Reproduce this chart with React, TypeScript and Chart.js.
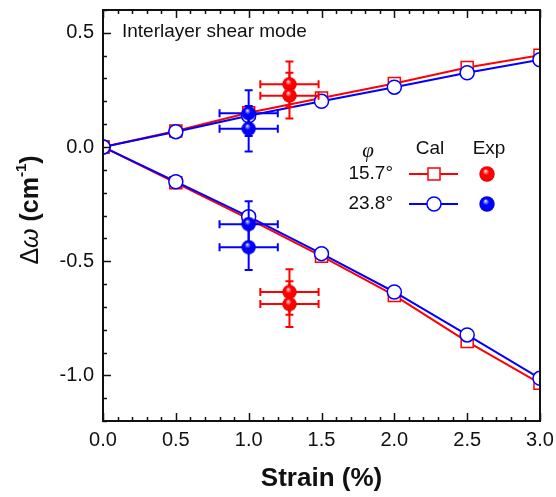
import React, { useEffect, useRef } from 'react';
import { Chart, registerables } from 'chart.js';

Chart.register(...registerables);

// ---------- data ----------
const strain = [0, 0.5, 1, 1.5, 2, 2.5, 3];
const cal157Up = [0, 0.07, 0.15, 0.215, 0.278, 0.348, 0.402];
const cal157Down = [0, -0.157, -0.315, -0.478, -0.65, -0.852, -1.035];
const cal238Up = [0, 0.067, 0.137, 0.2, 0.262, 0.325, 0.382];
const cal238Down = [0, -0.152, -0.305, -0.467, -0.635, -0.823, -1.013];

const exp157X = [1.28, 1.28, 1.28, 1.28];
const exp157Y = [0.275, 0.225, -0.635, -0.688];
const exp157XErr = [0.2, 0.2, 0.2, 0.2];
const exp157YErr = [0.1, 0.1, 0.1, 0.1];

const exp238X = [1.0, 1.0, 1.0, 1.0];
const exp238Y = [0.148, 0.08, -0.338, -0.439];
const exp238XErr = [0.2, 0.2, 0.2, 0.2];
const exp238YErr = [0.1, 0.1, 0.1, 0.1];

const xTickValues = [0, 0.5, 1, 1.5, 2, 2.5, 3];
const yTickValues = [-1.0, -0.5, 0, 0.5];
const legendAngles = ['15.7°', '23.8°'];
const panelTitle = 'Interlayer shear mode';
const xTitle = 'Strain (%)';

const RED = '#ff0000';
const BLUE = '#0000ff';
const SANS = '"Liberation Sans", Arial, Helvetica, sans-serif';
const SERIF = '"Liberation Serif", "Times New Roman", serif';
const TEXT = '#111111';

function makeSphere(base: string, dark: string, size: number): HTMLCanvasElement {
  const c = document.createElement('canvas');
  c.width = size;
  c.height = size;
  const g = c.getContext('2d')!;
  const r = size / 2;
  const grad = g.createRadialGradient(r * 0.8, r * 0.6, 0, r, r, r);
  grad.addColorStop(0, '#ffffff');
  grad.addColorStop(0.18, base === RED ? '#ff8080' : '#8080ff');
  grad.addColorStop(0.4, base);
  grad.addColorStop(0.85, base);
  grad.addColorStop(1, dark);
  g.fillStyle = grad;
  g.beginPath();
  g.arc(r, r, r - 0.3, 0, Math.PI * 2);
  g.fill();
  return c;
}

const pts = (xs: number[], ys: number[]) => xs.map((x, i) => ({ x, y: ys[i] }));

export default function App() {
  const ref = useRef<HTMLCanvasElement>(null);

  useEffect(() => {
    const redSphere = makeSphere(RED, '#b00000', 15);
    const blueSphere = makeSphere(BLUE, '#0000a8', 15);
    const redSphereL = makeSphere(RED, '#b00000', 16);
    const blueSphereL = makeSphere(BLUE, '#0000a8', 16);

    const decor = {
      id: 'decor',
      beforeDatasetDraw(chart: any, args: any) {
        const ds = chart.data.datasets[args.index] as any;
        if (!ds.errX) return;
        const ctx = chart.ctx as CanvasRenderingContext2D;
        const xs = chart.scales.x;
        const ys = chart.scales.y;
        ctx.save();
        ctx.strokeStyle = ds.errColor;
        ctx.lineWidth = 2;
        ds.data.forEach((p: any, i: number) => {
          const px = xs.getPixelForValue(p.x);
          const py = ys.getPixelForValue(p.y);
          const x0 = xs.getPixelForValue(p.x - ds.errX[i]);
          const x1 = xs.getPixelForValue(p.x + ds.errX[i]);
          const y0 = ys.getPixelForValue(p.y - ds.errY[i]);
          const y1 = ys.getPixelForValue(p.y + ds.errY[i]);
          ctx.beginPath();
          ctx.moveTo(x0, py); ctx.lineTo(x1, py);
          ctx.moveTo(px, y0); ctx.lineTo(px, y1);
          ctx.moveTo(x0, py - 4); ctx.lineTo(x0, py + 4);
          ctx.moveTo(x1, py - 4); ctx.lineTo(x1, py + 4);
          ctx.moveTo(px - 4, y0); ctx.lineTo(px + 4, y0);
          ctx.moveTo(px - 4, y1); ctx.lineTo(px + 4, y1);
          ctx.stroke();
        });
        ctx.restore();
      },
      afterDraw(chart: any) {
        const ctx = chart.ctx as CanvasRenderingContext2D;
        const a = chart.chartArea;
        const xs = chart.scales.x;
        const ys = chart.scales.y;
        ctx.save();
        // frame
        ctx.strokeStyle = '#111';
        ctx.lineWidth = 2;
        ctx.strokeRect(a.left, a.top, a.right - a.left, a.bottom - a.top);
        // ticks
        ctx.lineWidth = 1.5;
        ctx.beginPath();
        for (let k = 0; k <= 30; k++) {
          const v = k / 10;
          const px = Math.round(xs.getPixelForValue(v)) + 0.5;
          const len = k % 5 === 0 ? 8 : 4;
          ctx.moveTo(px, a.bottom); ctx.lineTo(px, a.bottom - len);
          ctx.moveTo(px, a.top); ctx.lineTo(px, a.top + len);
        }
        for (let k = -12; k <= 6; k++) {
          const v = k / 10;
          const py = Math.round(ys.getPixelForValue(v)) + 0.5;
          const len = k % 5 === 0 ? 8 : 4;
          ctx.moveTo(a.left, py); ctx.lineTo(a.left + len, py);
        }
        ctx.stroke();

        // panel title
        ctx.fillStyle = TEXT;
        ctx.font = `19px ${SANS}`;
        ctx.textAlign = 'left';
        ctx.textBaseline = 'alphabetic';
        ctx.fillText(panelTitle, a.left + 19, 37);

        // x title
        ctx.font = `bold 26px ${SANS}`;
        ctx.textAlign = 'center';
        ctx.fillText(xTitle, (a.left + a.right) / 2, 486);

        // y title
        ctx.save();
        ctx.translate(31, 210);
        ctx.rotate(-Math.PI / 2);
        const parts = [
          { t: 'Δ', f: `25px ${SANS}`, dy: 0 },
          { t: 'ω', f: `italic 25px ${SANS}`, dy: 0 },
          { t: ' (cm', f: `bold 25px ${SANS}`, dy: 0 },
          { t: '-1', f: `bold 15px ${SANS}`, dy: -9 },
          { t: ')', f: `bold 25px ${SANS}`, dy: 0 },
        ];
        let total = 0;
        parts.forEach((p) => { ctx.font = p.f; total += ctx.measureText(p.t).width; });
        let cx = -total / 2;
        ctx.textAlign = 'left';
        ctx.textBaseline = 'middle';
        parts.forEach((p) => {
          ctx.font = p.f;
          ctx.fillText(p.t, cx, p.dy);
          cx += ctx.measureText(p.t).width;
        });
        ctx.restore();

        // legend
        const lx = a.right; // anchor
        ctx.fillStyle = TEXT;
        ctx.textBaseline = 'middle';
        ctx.textAlign = 'center';
        ctx.font = `italic 21px ${SERIF}`;
        ctx.fillText('φ', lx - 172, 151);
        ctx.font = `19px ${SANS}`;
        ctx.fillText('Cal', lx - 110, 149);
        ctx.fillText('Exp', lx - 51, 149);
        ctx.textAlign = 'right';
        const rows = [
          { label: legendAngles[0], color: RED, y: 174, marker: 'sq', sphere: redSphereL },
          { label: legendAngles[1], color: BLUE, y: 204, marker: 'ci', sphere: blueSphereL },
        ];
        rows.forEach((r) => {
          ctx.fillStyle = TEXT;
          ctx.font = `19px ${SANS}`;
          ctx.fillText(r.label, lx - 147, r.y);
          ctx.strokeStyle = r.color;
          ctx.lineWidth = 2;
          ctx.beginPath();
          ctx.moveTo(lx - 131, r.y);
          ctx.lineTo(lx - 82, r.y);
          ctx.stroke();
          ctx.fillStyle = '#fff';
          ctx.lineWidth = 1.5;
          ctx.beginPath();
          if (r.marker === 'sq') ctx.rect(lx - 106 - 6, r.y - 6, 12, 12);
          else ctx.arc(lx - 106, r.y, 7, 0, Math.PI * 2);
          ctx.fill();
          ctx.stroke();
          ctx.drawImage(r.sphere, lx - 53 - 8, r.y - 8);
        });
        ctx.restore();
      },
    };

    const calStyle = (color: string, style: string, radius: number, order: number) => ({
      showLine: true,
      borderColor: color,
      borderWidth: 2,
      pointStyle: style,
      pointRadius: radius,
      pointBackgroundColor: '#ffffff',
      pointBorderColor: color,
      pointBorderWidth: 1.5,
      order,
    });

    const zeroPad = (s: any) => {
      s.paddingTop = 0;
      s.paddingBottom = 0;
      s.paddingLeft = 0;
      s.paddingRight = 0;
    };

    const chart = new Chart(ref.current!, {
      type: 'scatter',
      data: {
        datasets: [
          { data: pts(strain, cal157Up), ...calStyle(RED, 'rect', 8.5, 5) },
          { data: pts(strain, cal157Down), ...calStyle(RED, 'rect', 8.5, 5) },
          { data: pts(strain, cal238Up), ...calStyle(BLUE, 'circle', 7, 4) },
          { data: pts(strain, cal238Down), ...calStyle(BLUE, 'circle', 7, 4) },
          {
            data: pts(exp157X, exp157Y),
            errX: exp157XErr, errY: exp157YErr, errColor: RED,
            pointStyle: redSphere, pointRadius: 7, showLine: false, order: 2,
          } as any,
          {
            data: pts(exp238X, exp238Y),
            errX: exp238XErr, errY: exp238YErr, errColor: BLUE,
            pointStyle: blueSphere, pointRadius: 7, showLine: false, order: 1,
          } as any,
        ],
      },
      options: {
        responsive: false,
        animation: false,
        events: [],
        layout: { padding: { left: 0, right: 16, top: 4, bottom: 0 } },
        plugins: { legend: { display: false }, tooltip: { enabled: false } },
        scales: {
          x: {
            type: 'linear',
            min: 0,
            max: 3,
            grid: { display: false, drawTicks: false },
            border: { display: false },
            afterBuildTicks: (s: any) => { s.ticks = xTickValues.map((v) => ({ value: v })); },
            afterFit: (s: any) => { s.height = 76; zeroPad(s); },
            ticks: {
              padding: 7,
              color: TEXT,
              font: { family: SANS, size: 20 },
              callback: (v: any) => Number(v).toFixed(1),
              maxRotation: 0,
            },
          },
          y: {
            type: 'linear',
            min: -1.2,
            max: 0.6,
            grid: { display: false, drawTicks: false },
            border: { display: false },
            afterBuildTicks: (s: any) => { s.ticks = yTickValues.map((v) => ({ value: v })); },
            afterFit: (s: any) => { s.width = 103; zeroPad(s); },
            ticks: {
              padding: 9,
              color: TEXT,
              font: { family: SANS, size: 20 },
              callback: (v: any) => Number(v).toFixed(1),
            },
          },
        },
      },
      plugins: [decor],
    } as any);
    return () => chart.destroy();
  }, []);

  return (
    <div style={{ position: 'fixed', left: 0, top: 0, width: 556, height: 497, background: '#fff' }}>
      <canvas ref={ref} width={556} height={497} style={{ display: 'block' }} />
    </div>
  );
}
